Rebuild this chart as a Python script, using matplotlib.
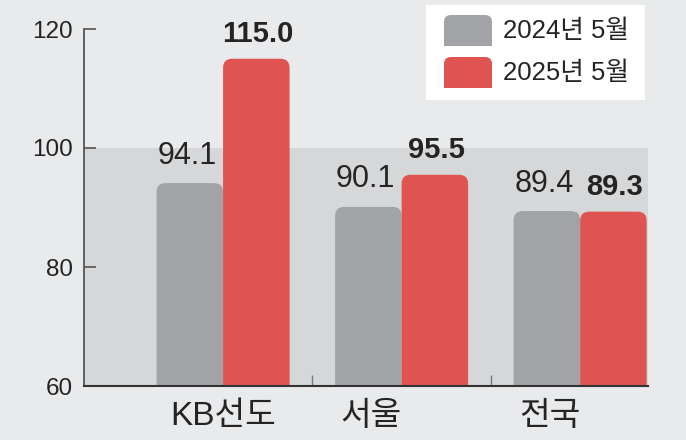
import matplotlib
matplotlib.use("Agg")
import numpy as np
import matplotlib.pyplot as plt
from matplotlib.patches import FancyBboxPatch, Rectangle

# 데이터
categories = ["KB선도", "서울", "전국"]
series_names = ["2024년 5월", "2025년 5월"]
values_2024 = [94.1, 90.1, 89.4]
values_2025 = [115.0, 95.5, 89.3]
y_ticks = [60, 80, 100, 120]

# 스타일
bg = "#e9eaec"
band = "#d6d7d9"
c_gray = "#a2a3a7"
c_red = "#df5350"
txt = "#242424"
num_font = ["Liberation Sans", "DejaVu Sans"]
kr_font = ["Liberation Sans", "Noto Sans CJK KR", "DejaVu Sans"]
label_shift = [0.0, -0.17, -0.17]

fig = plt.figure(figsize=(6.86, 4.40), dpi=100)
fig.patch.set_facecolor(bg)
ax = fig.add_axes([84 / 686, 54 / 440, 564 / 686, 357 / 440])
ax.set_facecolor(bg)

ax.set_xlim(-0.779, 2.38)
ax.set_ylim(60, 120)

# 100 아래 음영
ax.axhspan(60, 100, color=band, zorder=0, lw=0)

x = np.arange(len(categories))
w = 0.3725

# 픽셀 비율 (둥근 모서리용)
fig.canvas.draw()
p0 = ax.transData.transform((0, 0))
p1 = ax.transData.transform((1, 1))
px_x = p1[0] - p0[0]
px_y = p1[1] - p0[1]
aspect = px_x / px_y
r = 9 / px_x


def rbar(xc, h, color):
    left = xc - w / 2
    bottom = 50
    p = FancyBboxPatch((left, bottom), w, h - bottom,
                       boxstyle="round,pad=0,rounding_size=%f" % r,
                       mutation_aspect=aspect, fc=color, ec="none", zorder=2)
    ax.add_patch(p)


for i in range(len(categories)):
    rbar(x[i] - w / 2, values_2024[i], c_gray)
    rbar(x[i] + w / 2, values_2025[i], c_red)
    ax.annotate("%.1f" % values_2024[i], (x[i] - w / 2, values_2024[i]),
                xytext=(-2, 9), textcoords="offset points", ha="center", va="bottom",
                fontsize=22, family=num_font, color=txt, zorder=5, annotation_clip=False)
    ax.annotate("%.1f" % values_2025[i], (x[i] + w / 2, values_2025[i]),
                xytext=(1, 8), textcoords="offset points", ha="center", va="bottom",
                fontsize=21, fontweight="bold", family=num_font, color=txt, zorder=5,
                annotation_clip=False)

# 축
for s in ["top", "right"]:
    ax.spines[s].set_visible(False)
ax.spines["left"].set_color("#555555")
ax.spines["left"].set_linewidth(1.3)
ax.spines["bottom"].set_color("#333333")
ax.spines["bottom"].set_linewidth(1.5)
ax.spines["left"].set_zorder(3)
ax.spines["bottom"].set_zorder(3)

ax.set_yticks(y_ticks)
ax.set_yticklabels([str(t) for t in y_ticks], family=num_font, fontsize=17.5, color=txt)
ax.tick_params(axis="y", direction="in", length=8.6, width=1.2, color="#555555", pad=8)

ax.set_xticks([x[i] + label_shift[i] for i in range(len(categories))])
ax.set_xticklabels(categories, family=kr_font, fontsize=24, color=txt)
ax.set_xticks(x[:-1] + 0.5, minor=True)
ax.tick_params(axis="x", which="major", length=0, pad=10.5)
ax.tick_params(axis="x", which="minor", direction="in", length=8, width=1, color="#777777")

# 범례
fx = lambda v: v / 686
fy = lambda v: 1 - v / 440
fig.patches.append(Rectangle((fx(426), fy(100)), fx(645) - fx(426), fy(5) - fy(100),
                             transform=fig.transFigure, fc="white", ec="none", zorder=1))
fasp = (1 / 440) / (1 / 686)
for j, (name, col) in enumerate(zip(series_names, [c_gray, c_red])):
    top = 15 + j * 42
    bot = top + 31
    fig.patches.append(FancyBboxPatch((fx(444), fy(bot)), fx(492) - fx(444), fy(top) - fy(bot),
                                      boxstyle="round,pad=0,rounding_size=%f" % (7 / 686),
                                      mutation_aspect=fasp, transform=fig.transFigure,
                                      fc=col, ec="none", zorder=2))
    fig.patches.append(Rectangle((fx(444), fy(bot)), fx(492) - fx(444), fy((top + bot) / 2) - fy(bot),
                                 transform=fig.transFigure, fc=col, ec="none", zorder=2))
    fig.text(fx(503), fy((top + bot) / 2), name, family=kr_font, fontsize=18.5,
             color=txt, ha="left", va="center", zorder=3)

fig.savefig("out.png", dpi=100, facecolor=bg)
